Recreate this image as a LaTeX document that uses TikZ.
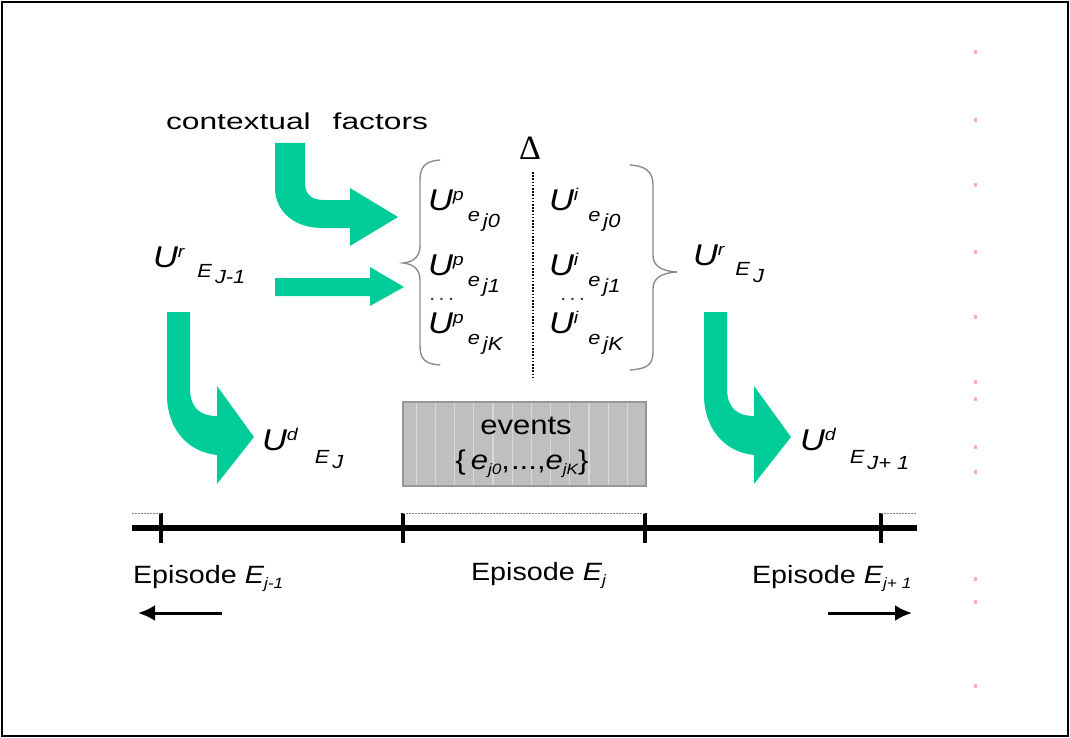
\documentclass[tikz,border=0pt]{standalone}
\usepackage{fontspec}
\setmainfont{Liberation Sans}[FakeStretch=1.15]
\newfontfamily\ctxfont{Liberation Sans}[FakeStretch=1.38]
\newfontfamily\deltafont{Liberation Serif}
\usetikzlibrary{arrows.meta}
\definecolor{grn}{RGB}{0,204,153}
\definecolor{boxfill}{RGB}{191,191,191}
\definecolor{stripe}{RGB}{216,216,216}
\definecolor{boxline}{RGB}{150,150,150}
\definecolor{bracecol}{RGB}{140,140,140}
\newcommand{\Ulab}[6]{{\fontsize{30}{30}\selectfont\itshape U}%
\raisebox{10pt}{\fontsize{17}{17}\selectfont\itshape #1}%
\hspace{#2}%
\raisebox{-#4}{\fontsize{19}{19}\selectfont\itshape #3}%
\hspace{3pt}%
\raisebox{-#6}{\fontsize{19}{19}\selectfont\itshape #5}}
\newcommand{\Sz}[1]{\fontsize{#1}{#1}\selectfont}
\tikzset{
  lbl/.style={anchor=base west, inner sep=0pt, outer sep=0pt},
  greenarrow/.style={fill=grn},
  bracepath/.style={draw=bracecol, line width=1.4pt, line cap=round},
  tick/.style={line width=3.5pt},
  timeline/.style={line width=5.5pt},
  dotline/.style={draw=gray, line width=1pt, dash pattern=on 1.5pt off 1.5pt},
  dirarrow/.style={line width=3pt, -{Latex[length=17pt,width=16pt]}},
}
\begin{document}
\begin{tikzpicture}[x=1pt,y=-1pt]
\useasboundingbox (0,0) rectangle (1070,738);
% frame
\draw[line width=2pt] (2,2) rectangle (1068,736);

% red artefact marks
\foreach \yy in {50,118,183,250,315,380,397,445,470,577,600,684}
  \fill[red!70, opacity=0.45] (974,\yy) rectangle (977,\yy+4);

% title
\node[inner sep=0pt] (ctx) at (297,121) {\ctxfont\Sz{23}contextual\hspace{22pt}factors};
\node[inner sep=0pt] (delta) at (530,148) {\deltafont\Sz{34}Δ};

% green arrows
\fill[greenarrow] (275,143) -- (305,143) -- (305,183) .. controls (305,195) and (312,200) .. (324,200) -- (350,200) -- (350,188) -- (398,217) -- (350,246) -- (350,228) -- (322,228) .. controls (295,228) and (275,212) .. (275,188) -- cycle;
\fill[greenarrow] (275,278) -- (370,278) -- (370,267) -- (404,287) -- (370,306) -- (370,296) -- (275,296) -- cycle;
\fill[greenarrow] (167,312) -- (190,312) -- (190,388) .. controls (190,408) and (200,416) .. (217,416) -- (217,386) -- (254,437) -- (217,484) -- (217,455) .. controls (187,452) and (167,428) .. (167,395) -- cycle;
\begin{scope}[shift={(537,0)}]
\fill[greenarrow] (167,312) -- (190,312) -- (190,388) .. controls (190,408) and (200,416) .. (217,416) -- (217,386) -- (254,437) -- (217,484) -- (217,455) .. controls (187,452) and (167,428) .. (167,395) -- cycle;
\end{scope}

% U labels
\node[lbl] (ur1) at (153,267) {\Ulab{r}{13pt}{E}{10pt}{J-1}{16pt}};
\node[lbl] (ur2) at (693,265) {\Ulab{r}{11pt}{E}{10pt}{J}{17pt}};
\node[lbl] (ud1) at (262,450) {\Ulab{d}{17pt}{E}{13pt}{J}{18pt}};
\node[lbl] (ud2) at (800,450) {\Ulab{d}{14pt}{E}{13pt}{J+ 1}{19pt}};

% braces
\draw[bracepath] (440,160) .. controls (426,161) and (420,166) .. (420,180) -- (420,246) .. controls (420,256) and (414,262) .. (403,263) .. controls (414,264) and (420,270) .. (420,280) -- (420,346) .. controls (420,360) and (426,364) .. (440,365);
\draw[bracepath] (630,165) .. controls (645,166) and (653,171) .. (653,185) -- (653,255) .. controls (653,265) and (660,271) .. (677,272) .. controls (660,273) and (653,279) .. (653,289) -- (653,352) .. controls (653,366) and (645,369) .. (630,370);

% dotted separator
\coordinate (dtop) at (533,172);
\coordinate (dbot) at (533,380);
\draw[line width=2.2pt, dash pattern=on 1.6pt off 1.6pt] (dtop) -- (dbot);

% list entries
\node[lbl] (p0) at (428,211) {\Ulab{p}{4pt}{e}{11pt}{j0}{17pt}};
\node[lbl] (p1) at (428,275) {\Ulab{p}{4pt}{e}{11pt}{j1}{17pt}};
\node[lbl] (p2) at (428,333) {\Ulab{p}{4pt}{e}{11pt}{jK}{17pt}};
\node[lbl] (i0) at (549,211) {\Ulab{i}{10pt}{e}{11pt}{j0}{17pt}};
\node[lbl] (i1) at (549,275) {\Ulab{i}{10pt}{e}{11pt}{j1}{17pt}};
\node[lbl] (i2) at (549,333) {\Ulab{i}{10pt}{e}{11pt}{jK}{17pt}};
\node[lbl, text=black!75] (pd) at (429,300) {\Sz{20}.\hspace{3pt}.\hspace{3pt}.};
\node[lbl, text=black!75] (id) at (560,300) {\Sz{20}.\hspace{3pt}.\hspace{3pt}.};

% events box
\node[draw=boxline, line width=1.2pt, fill=boxfill, minimum width=243pt, minimum height=84pt, inner sep=0pt,
  path picture={\foreach \k in {1,...,12} \draw[stripe, line width=1.3pt] ([xshift=\k*19.2pt-6pt]path picture bounding box.north west) -- ([xshift=\k*19.2pt-6pt]path picture bounding box.south west);}] (ev) at (524.5,444) {};
\node[inner sep=0pt] (evt) at (526,426) {\Sz{27}events};
\node[inner sep=0pt] (evs) at (522,464) {\Sz{27}\{\hspace{5pt}{\itshape e}\raisebox{-5pt}{\Sz{15}\itshape j0},\hspace{1pt}...,{\itshape e}\raisebox{-5pt}{\Sz{15}\itshape jK}\}};

% timeline
\coordinate (l0) at (132,528);
\coordinate (l5) at (917,528);
\coordinate (t1) at (161,528);
\coordinate (t2) at (403,528);
\coordinate (t3) at (645,528);
\coordinate (t4) at (881,528);
\draw[timeline] (l0) -- (l5);
\foreach \t in {t1,t2,t3,t4}
  \draw[tick] ([yshift=15pt]\t) -- ([yshift=-15pt]\t);
\draw[dotline] ([yshift=15pt]l0) -- ([yshift=15pt]t1);
\draw[dotline] ([yshift=15pt]t2) -- ([yshift=15pt]t3);
\draw[dotline] ([yshift=15pt]t4) -- ([yshift=15pt]l5);

% episode labels
\node[lbl] (ep1) at (133,583) {\Sz{25}Episode {\itshape E}\raisebox{-5pt}{\Sz{15}\itshape j-1}};
\node[lbl] (ep2) at (471,580) {\Sz{25}Episode {\itshape E}\raisebox{-5pt}{\Sz{15}\itshape j}};
\node[lbl] (ep3) at (752,583) {\Sz{25}Episode {\itshape E}\raisebox{-5pt}{\Sz{15}\itshape j+ 1}};

% direction arrows
\coordinate (la0) at (222,613);
\coordinate (la1) at (138,613);
\coordinate (ra0) at (828,613);
\coordinate (ra1) at (912,613);
\draw[dirarrow] (la0) -- (la1);
\draw[dirarrow] (ra0) -- (ra1);
\end{tikzpicture}
\end{document}
